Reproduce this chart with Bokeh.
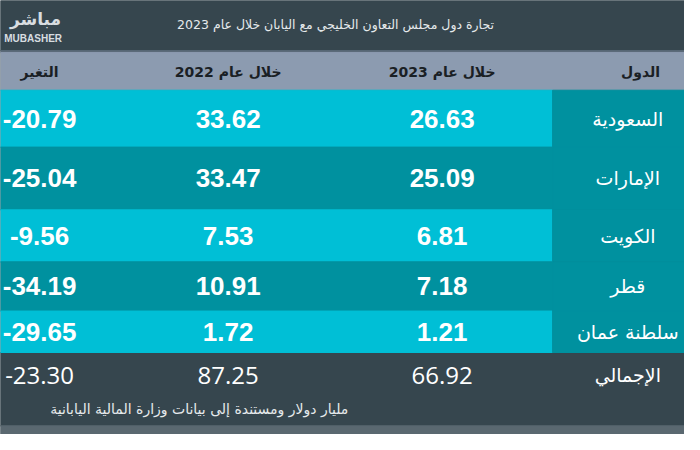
from bokeh.plotting import figure
from bokeh.models import Range1d, ColumnDataSource
from bokeh.core.properties import value
from bokeh.embed import file_html
from bokeh.resources import INLINE

# ---- data ----
title = "تجارة دول مجلس التعاون الخليجي مع اليابان خلال عام 2023"
headers = ["الدول", "خلال عام 2023", "خلال عام 2022", "التغير"]
countries = ["السعودية", "الإمارات", "الكويت", "قطر", "سلطنة عمان"]
v2023 = [26.63, 25.09, 6.81, 7.18, 1.21]
v2022 = [33.62, 33.47, 7.53, 10.91, 1.72]
change = [-20.79, -25.04, -9.56, -34.19, -29.65]
total_label = "الإجمالي"
total_2023 = 66.92
total_2022 = 87.25
total_change = -23.30
note = "مليار دولار ومستندة إلى بيانات وزارة المالية اليابانية"

# ---- layout ----
W, H = 684, 434
p = figure(width=W, height=H, x_range=Range1d(0, 700), y_range=Range1d(450, 0),
           output_backend="svg", toolbar_location=None, min_border=0)
p.axis.visible = False
p.grid.visible = False
p.outline_line_color = None
p.background_fill_color = "#36464e"
p.border_fill_color = "#36464e"

DARK = "#36464e"
HEAD = "#8c9bb0"
CYAN = "#00bfd6"
TEAL = "#00919f"

row_edges = [93, 152, 217, 271, 322, 365]
col_country = 565
cx_country, cx_23, cx_22, cx_ch = 642, 452, 233, 40

# background bands
p.quad(left=[-50], right=[800], top=[-10], bottom=[52], color=DARK)
p.quad(left=[-50], right=[800], top=[52], bottom=[54], color="#5b6b7a")
p.quad(left=[-50], right=[800], top=[54], bottom=[93], color=HEAD)
p.quad(left=[-50], right=[800], top=[365], bottom=[441], color=DARK)
p.quad(left=[-50], right=[800], top=[441], bottom=[470], color="#5a6870")

tops = row_edges[:-1]
bots = row_edges[1:]
val_colors = [CYAN if i % 2 == 0 else TEAL for i in range(len(countries))]
p.quad(left=[-50] * len(countries), right=[col_country] * len(countries),
       top=tops, bottom=bots, color=val_colors)
p.quad(left=[col_country] * len(countries), right=[800] * len(countries),
       top=tops, bottom=bots, color=TEAL)

ymid = [(a + b) / 2 for a, b in zip(tops, bots)]

arab = value("DejaVu Sans")
num = value("Liberation Sans")

# title and logo
p.text(x=[505], y=[25], text=[title], text_font=arab, text_font_size="12.5px",
       text_color="#e6eaec", text_align="right", text_baseline="middle")
p.text(x=[62], y=[19], text=["مباشر"], text_font=arab, text_font_size="17px",
       text_color="#d8dde0", text_align="right", text_baseline="middle", text_font_style="bold")
p.text(x=[63], y=[39], text=["MUBASHER"], text_font=num, text_font_size="10px",
       text_color="#d8dde0", text_align="right", text_baseline="middle", text_font_style="bold")

# header
p.text(x=[655, cx_23, cx_22, cx_ch], y=[74] * 4, text=headers, text_font=arab,
       text_font_size="14px", text_font_style="bold", text_color="#1a2024",
       text_align="center", text_baseline="middle")

# body
src = ColumnDataSource(dict(
    y=ymid, country=countries,
    t23=[f"{v:.2f}" for v in v2023],
    t22=[f"{v:.2f}" for v in v2022],
    tch=[f"{v:.2f}" for v in change],
))
p.text(x=cx_country, y="y", text="country", source=src, text_font=arab,
       text_font_size="19px", text_color="white", text_align="center", text_baseline="middle")
for cx, col in [(cx_23, "t23"), (cx_22, "t22"), (cx_ch, "tch")]:
    p.text(x=cx, y="y", text=col, source=src, text_font=num, text_font_size="26px",
           text_font_style="bold", text_color="white", text_align="center", text_baseline="middle")

# total row
p.text(x=[cx_country], y=[388], text=[total_label], text_font=arab, text_font_size="19px",
       text_color="white", text_align="center", text_baseline="middle")
p.text(x=[cx_23, cx_22, cx_ch], y=[389] * 3,
       text=[f"{total_2023:.2f}", f"{total_2022:.2f}", f"{total_change:.2f}"],
       text_font=value("Open Sans"), text_font_size="24px", text_color="white",
       text_align="center", text_baseline="middle")

# note
p.text(x=[356], y=[424], text=[note], text_font=arab, text_font_size="14px",
       text_color="#e6eaec", text_align="right", text_baseline="middle")

open("out.html", "w").write(file_html(p, INLINE))
